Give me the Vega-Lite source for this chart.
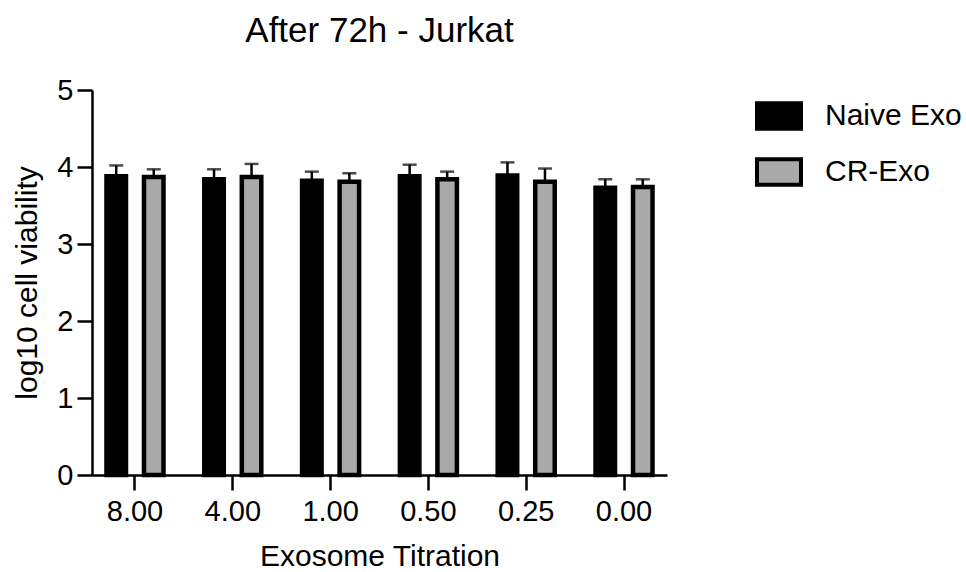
{
  "$schema": "https://vega.github.io/schema/vega-lite/v6.json",
  "width": 575,
  "height": 385,
  "autosize": {"type": "none"},
  "padding": {"left": 92, "top": 90, "right": 299, "bottom": 97},
  "background": "white",
  "title": {
    "text": "After 72h - Jurkat",
    "font": "Liberation Sans",
    "fontSize": 35,
    "fontWeight": "normal",
    "color": "black",
    "anchor": "middle",
    "offset": 27
  },
  "config": {
    "view": {"stroke": null},
    "font": "Liberation Sans",
    "axis": {
      "grid": false,
      "domainColor": "black",
      "domainWidth": 2.5,
      "tickColor": "black",
      "tickWidth": 2.5,
      "tickSize": 15,
      "labelFont": "Liberation Sans",
      "labelFontSize": 29,
      "labelColor": "black",
      "titleFont": "Liberation Sans",
      "titleFontSize": 30,
      "titleFontWeight": "normal",
      "titleColor": "black"
    }
  },
  "data": {
    "values": [
      {"titration": "8.00", "group": "Naive Exo", "value": 3.88, "upper": 4.02},
      {"titration": "8.00", "group": "CR-Exo", "value": 3.87, "upper": 3.97},
      {"titration": "4.00", "group": "Naive Exo", "value": 3.84, "upper": 3.97},
      {"titration": "4.00", "group": "CR-Exo", "value": 3.87, "upper": 4.04},
      {"titration": "1.00", "group": "Naive Exo", "value": 3.82, "upper": 3.94},
      {"titration": "1.00", "group": "CR-Exo", "value": 3.81, "upper": 3.92},
      {"titration": "0.50", "group": "Naive Exo", "value": 3.88, "upper": 4.03},
      {"titration": "0.50", "group": "CR-Exo", "value": 3.84, "upper": 3.94},
      {"titration": "0.25", "group": "Naive Exo", "value": 3.89, "upper": 4.06},
      {"titration": "0.25", "group": "CR-Exo", "value": 3.81, "upper": 3.98},
      {"titration": "0.00", "group": "Naive Exo", "value": 3.73, "upper": 3.84},
      {"titration": "0.00", "group": "CR-Exo", "value": 3.74, "upper": 3.84}
    ]
  },
  "encoding": {
    "x": {
      "field": "titration",
      "type": "nominal",
      "sort": null,
      "scale": {"paddingInner": 0.417, "paddingOuter": 0.148},
      "axis": {"labelAngle": 0, "title": "Exosome Titration", "labelPadding": 7, "titlePadding": 15}
    },
    "xOffset": {
      "field": "group",
      "type": "nominal",
      "sort": ["Naive Exo", "CR-Exo"],
      "scale": {"paddingInner": 0.48, "paddingOuter": 0}
    }
  },
  "layer": [
    {
      "mark": {"type": "rule", "strokeWidth": 2.5, "color": "black"},
      "encoding": {
        "y": {"field": "value", "type": "quantitative"},
        "y2": {"field": "upper"}
      }
    },
    {
      "mark": {"type": "tick", "size": 14, "thickness": 2.5, "color": "black", "orient": "horizontal"},
      "encoding": {
        "y": {"field": "upper", "type": "quantitative"}
      }
    },
    {
      "mark": {"type": "bar", "stroke": "black", "strokeWidth": 4.5},
      "encoding": {
        "y": {
          "field": "value",
          "type": "quantitative",
          "scale": {"domain": [0, 5]},
          "axis": {"values": [0, 1, 2, 3, 4, 5], "format": "d", "title": "log10 cell viability", "labelPadding": 4, "titlePadding": 14}
        },
        "fill": {
          "field": "group",
          "type": "nominal",
          "sort": ["Naive Exo", "CR-Exo"],
          "scale": {"domain": ["Naive Exo", "CR-Exo"], "range": ["black", "#a9a9a9"]},
          "legend": {
            "title": null,
            "orient": "none",
            "legendX": 663,
            "legendY": 2,
            "symbolType": "M-1,-0.58H1V0.58H-1Z",
            "symbolSize": 1936,
            "symbolStrokeColor": "black",
            "symbolStrokeWidth": 4,
            "symbolOpacity": 1,
            "labelFont": "Liberation Sans",
            "labelFontSize": 30,
            "labelColor": "black",
            "labelOffset": 22,
            "rowPadding": 11
          }
        }
      }
    }
  ]
}
